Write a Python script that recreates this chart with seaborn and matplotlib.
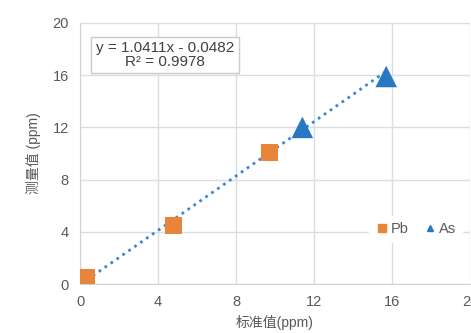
import numpy as np
import matplotlib
matplotlib.use("Agg")
import matplotlib.pyplot as plt
from matplotlib.lines import Line2D
import seaborn as sns
import pandas as pd

# data
pb_x = [0.35, 4.8, 9.7]
pb_y = [0.5, 4.5, 10.1]
as_x = [11.4, 15.7]
as_y = [12.0, 15.9]
slope, intercept = 1.0411, -0.0482
x_ticks = [0, 4, 8, 12, 16, 20]
y_ticks = [0, 4, 8, 12, 16, 20]

sns.set_style("white")
plt.rcParams['font.family'] = ['Liberation Sans', 'Noto Sans CJK SC', 'DejaVu Sans']

df = pd.DataFrame({
    "x": pb_x + as_x,
    "y": pb_y + as_y,
    "element": ["Pb"] * len(pb_x) + ["As"] * len(as_x),
})

fig = plt.figure(figsize=(4.71, 3.33), dpi=100)
ax = fig.add_axes([0.170, 0.147, 0.828, 0.784])

# trendline over the data range
all_x = np.array(pb_x + as_x)
line_x = np.array([all_x.min(), all_x.max()])
ax.plot(line_x, slope * line_x + intercept, linestyle=(0, (1, 1.6)),
        color="#3A86D8", linewidth=2.0, zorder=2)

sns.scatterplot(data=df, x="x", y="y", hue="element", style="element",
                size="element", sizes={"Pb": 150, "As": 240},
                palette={"Pb": "#E8853B", "As": "#2877C2"},
                markers={"Pb": "s", "As": "^"},
                edgecolor="none", ax=ax, zorder=3, legend=False)

ax.set_xlim(0, 20)
ax.set_ylim(0, 20)
ax.set_xticks(x_ticks)
ax.set_yticks(y_ticks)
ax.grid(True, color="#DADDE2", linewidth=1.0)
ax.set_axisbelow(True)
for side in ["top", "right"]:
    ax.spines[side].set_visible(False)
for side in ["left", "bottom"]:
    ax.spines[side].set_color("#D0D3D8")
ax.tick_params(axis="both", length=0, labelsize=10.5, colors="#595959", pad=8)
ax.set_xlabel("标准值(ppm)", fontsize=10, color="#595959", labelpad=4)
ax.set_ylabel("测量值 (ppm)", fontsize=10, color="#595959", labelpad=8)

# equation box
ax.text(0.218, 0.877, "y = 1.0411x - 0.0482\nR² = 0.9978", transform=ax.transAxes,
        ha="center", va="center", fontsize=11, color="#404040", linespacing=0.95,
        bbox=dict(boxstyle="square,pad=0.3", facecolor="white", edgecolor="#C8CBD0"))

# legend
handles = [Line2D([], [], marker="s", color="#E8853B", linestyle="none", markersize=6),
           Line2D([], [], marker="^", color="#2877C2", linestyle="none", markersize=5)]
ax.legend(handles, ["Pb", "As"], loc="center", bbox_to_anchor=(0.86, 0.21),
          ncol=2, frameon=True, framealpha=1, edgecolor="white", facecolor="white",
          fontsize=10.5, handletextpad=0.1, columnspacing=1.0, handlelength=1.0,
          labelcolor="#595959", borderpad=0.4)

fig.savefig("out.png", dpi=100)
